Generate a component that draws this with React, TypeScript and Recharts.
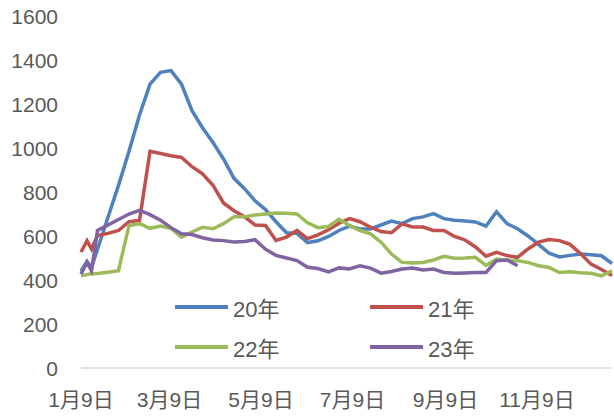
import { LineChart, Line, XAxis, YAxis, Legend } from "recharts";

const dates = [
  "1/9", "1/13", "1/16", "1/20", "1/27", "2/3", "2/10", "2/17", "2/24", "3/3",
  "3/10", "3/17", "3/24", "3/31", "4/7", "4/14", "4/21", "4/28", "5/5", "5/12",
  "5/19", "5/26", "6/2", "6/9", "6/16", "6/23", "6/30", "7/7", "7/14", "7/21",
  "7/28", "8/4", "8/11", "8/18", "8/25", "9/1", "9/8", "9/15", "9/22", "9/29",
  "10/6", "10/13", "10/20", "10/27", "11/3", "11/10", "11/17", "11/24", "12/1", "12/8",
  "12/15", "12/22", "12/29",
];

const y20 = [
  440, 485, 457, 540, 685, 830, 985, 1150, 1290, 1344,
  1352, 1290, 1170, 1092, 1025, 950, 862, 815, 760, 720,
  665, 615, 612, 570, 578, 598, 625, 645, 632, 632,
  650, 668, 656, 679, 687, 702, 679, 672, 668, 664,
  645, 710, 656, 633, 600, 562, 522, 505, 512, 518,
  515, 510, 475,
];

const y21 = [
  527, 579, 541, 602, 612, 625, 665, 671, 985, 975,
  965, 957, 915, 883, 830, 750, 715, 688, 650, 648,
  580, 595, 625, 588, 605, 628, 658, 679, 665, 640,
  620, 615, 655, 641, 641, 625, 625, 598, 582, 550,
  508, 526, 511, 503, 541, 572, 584, 579, 562, 520,
  472, 448, 420,
];

const y22 = [
  419, 425, 428, 430, 435, 442, 648, 656, 635, 645,
  635, 595, 618, 640, 633, 656, 687, 687, 695, 700,
  705, 703, 700, 660, 638, 643, 676, 648, 625, 610,
  572, 518, 480, 477, 480, 491, 508, 499, 500, 503,
  466, 495, 490, 488, 480, 465, 457, 434, 437, 433,
  431, 419, 442,
];

const y23 = [
  427, 480, 442, 625, 650, 675, 700, 717, 697, 672,
  638, 610, 607, 592, 582, 579, 573, 575, 583, 540,
  512, 500, 488, 458, 452, 437, 455, 450, 465, 454,
  431, 439, 450, 454, 446, 450, 434, 431, 432, 434,
  434, 488, 491, 465,
];

const tickDates = ["1/9", "3/9", "5/9", "7/9", "9/9", "11/9"];
const tickLabels = ["1月9日", "3月9日", "5月9日", "7月9日", "9月9日", "11月9日"];
const yTicks = [0, 200, 400, 600, 800, 1000, 1200, 1400, 1600];

const SERIES = [
  { key: "y20", name: "20年", color: "#4F81BD" },
  { key: "y21", name: "21年", color: "#C0504D" },
  { key: "y22", name: "22年", color: "#9BBB59" },
  { key: "y23", name: "23年", color: "#8064A2" },
];

// days since 1/9
function dayOf(md: string) {
  const [m, d] = md.split("/").map(Number);
  const t = Date.UTC(2023, m - 1, d) - Date.UTC(2023, 0, 9);
  return Math.round(t / 86400000);
}

const data = dates.map((d, i) => ({
  day: dayOf(d),
  y20: y20[i],
  y21: y21[i],
  y22: y22[i],
  y23: i < y23.length ? y23[i] : null,
}));

const tickDays = tickDates.map(dayOf);
const FONT = "'Liberation Sans', 'Noto Sans CJK SC', sans-serif";

function LegendBox() {
  return (
    <div
      style={{
        display: "grid",
        gridTemplateColumns: "195px 195px",
        rowGap: 14,
        fontFamily: FONT,
        fontSize: 22,
        color: "#595959",
      }}
    >
      {SERIES.map((s) => (
        <div key={s.key} style={{ display: "flex", alignItems: "center", height: 26 }}>
          <span style={{ width: 53, height: 4, background: s.color, display: "inline-block" }} />
          <span style={{ marginLeft: 5 }}>{s.name}</span>
        </div>
      ))}
    </div>
  );
}

export default function App() {
  return (
    <div style={{ position: "absolute", left: 0, top: 0, background: "#fff" }}>
      <LineChart width={614} height={416} data={data} margin={{ top: 16, right: 2, left: 0, bottom: 8 }}>
        <XAxis
          dataKey="day"
          type="number"
          domain={[0, dayOf(dates[dates.length - 1])]}
          ticks={tickDays}
          tickFormatter={(v) => tickLabels[tickDays.indexOf(v)] ?? ""}
          interval={0}
          height={40}
          tickLine={false}
          tickSize={0}
          tickMargin={24}
          axisLine={{ stroke: "#D9D9D9", strokeWidth: 1.5 }}
          tick={{ fill: "#595959", fontSize: 21, fontFamily: FONT }}
        />
        <YAxis
          domain={[0, 1600]}
          ticks={yTicks}
          interval={0}
          width={81}
          axisLine={false}
          tickLine={false}
          tickSize={0}
          tickMargin={23}
          tick={{ fill: "#595959", fontSize: 21, fontFamily: FONT, dy: 1 }}
        />
        <Legend
          layout="horizontal"
          verticalAlign="middle"
          align="center"
          content={() => <LegendBox />}
          wrapperStyle={{ left: 175, top: 294, width: 390 }}
        />
        {SERIES.map((s) => (
          <Line
            key={s.key}
            dataKey={s.key}
            name={s.name}
            type="linear"
            stroke={s.color}
            strokeWidth={3.5}
            dot={false}
            activeDot={false}
            isAnimationActive={false}
            connectNulls={false}
          />
        ))}
      </LineChart>
    </div>
  );
}
